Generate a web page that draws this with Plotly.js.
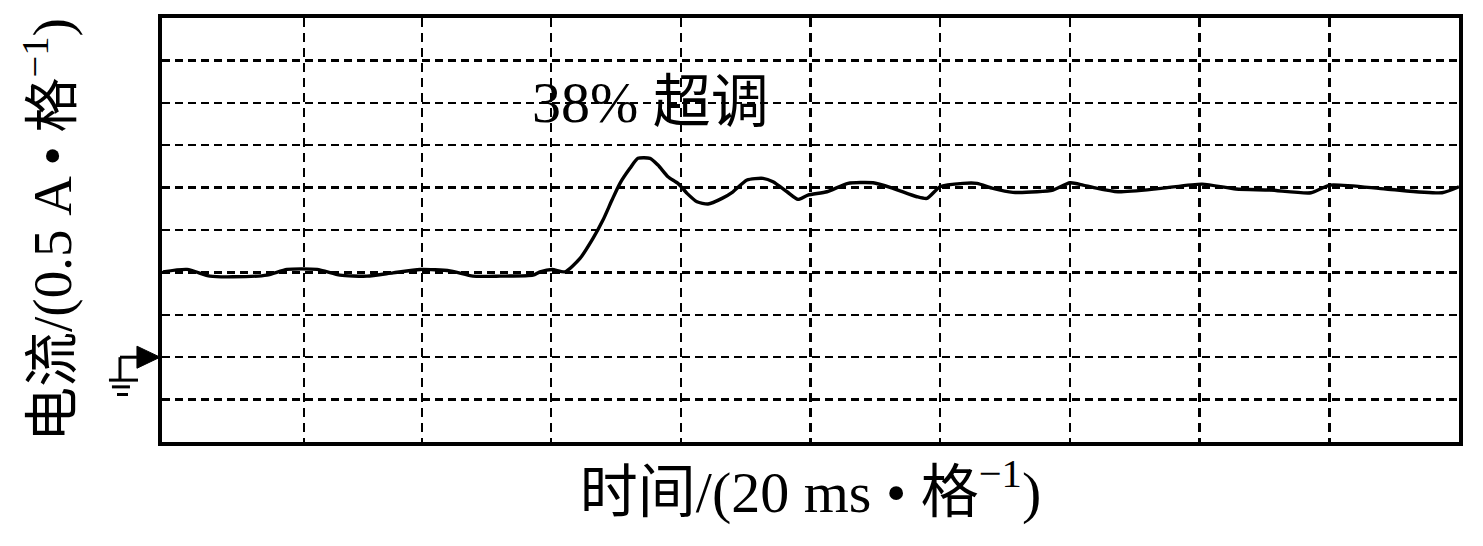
<!DOCTYPE html>
<html>
<head>
<meta charset="utf-8">
<script src="https://cdn.plot.ly/plotly-3.0.1.min.js"></script>
<style>
  html, body { margin: 0; padding: 0; background: #fff; }
  #plot { width: 1483px; height: 546px; }
</style>
</head>
<body>
<div id="plot"></div>
<script>
// time in ms (20 ms per division), current in A (0.5 A per division)
const timeMs = [0.15, 3.86, 7.40, 10.95, 16.19, 19.27, 23.90, 27.45, 31.61, 35.62,
  39.78, 44.41, 47.96, 52.12, 57.21, 58.29, 60.14, 62.15, 64.46, 66.46,
  68.00, 69.39, 70.62, 72.16, 73.39, 75.25, 76.48, 78.02, 79.56, 80.96,
  82.50, 84.20, 86.36, 88.05, 90.21, 92.68, 94.22, 96.38, 98.07, 99.61,
  102.54, 105.78, 109.64, 112.72, 116.42, 117.96, 119.97, 123.52, 125.67, 128.14,
  131.22, 134.93, 137.39, 140.02, 142.02, 143.56, 147.42, 154.05, 160.37, 165.61,
  170.85, 177.18, 180.11, 188.74, 197.38, 200.0]
const currentA = [1.007, 1.035, 0.956, 0.948, 0.968, 1.035, 1.035, 0.968, 0.956, 0.995,
  1.035, 1.018, 0.956, 0.956, 0.968, 1.007, 1.035, 1.007, 1.165, 1.401,
  1.617, 1.853, 2.050, 2.227, 2.345, 2.345, 2.266, 2.128, 2.050, 1.932,
  1.833, 1.806, 1.873, 1.951, 2.089, 2.109, 2.069, 1.951, 1.861, 1.912,
  1.951, 2.050, 2.057, 1.991, 1.892, 1.873, 2.010, 2.050, 2.050, 1.991,
  1.944, 1.951, 1.971, 2.057, 2.030, 2.003, 1.951, 1.991, 2.041, 1.983,
  1.971, 1.939, 2.030, 1.983, 1.939, 2.010]

// graticule positions as drawn on the screen shot
const xGrid = [21.9, 40.1, 60, 80, 100, 120, 140, 160, 180]
const yGrid = [-0.5, 0, 0.5, 1, 1.5, 2, 2.5, 3, 3.5]

const overshootLabel = '38% 超调'
const xTitle = '时间/(20 ms • 格<sup>−1</sup>)'
const yTitle = '电流/(0.5 A • 格<sup>−1</sup>)'

const FONT = "'Liberation Serif', 'Times New Roman', 'Noto Sans CJK SC', serif"

const trace = {
  x: timeMs,
  y: currentA,
  type: 'scatter',
  mode: 'lines',
  line: { color: '#000', width: 3.4, shape: 'spline', smoothing: 0.6 },
  hoverinfo: 'skip'
}

const axisBase = {
  showgrid: true,
  gridcolor: '#000',
  gridwidth: 2.4,
  tickmode: 'array',
  showticklabels: false,
  ticks: '',
  zeroline: false,
  showline: true,
  linecolor: '#000',
  linewidth: 4,
  mirror: true,
  fixedrange: true
}

// ground marker: arrow at 0 A pointing into the screen, with earth symbol below
const gx = -0.0324
const shapes = [
  { type: 'path', xref: 'paper', yref: 'y',
    path: 'M -0.0015,0 L -0.0193,0.13 L -0.0193,-0.13 Z',
    fillcolor: '#000', line: { color: '#000', width: 1 } },
  { type: 'line', xref: 'paper', yref: 'y', x0: gx, x1: -0.0193, y0: 0, y1: 0,
    line: { color: '#000', width: 3 } },
  { type: 'line', xref: 'paper', yref: 'y', x0: gx, x1: gx, y0: 0, y1: -0.27,
    line: { color: '#000', width: 3 } },
  { type: 'line', xref: 'paper', yref: 'y', x0: -0.0409, x1: -0.0185, y0: -0.27, y1: -0.27,
    line: { color: '#000', width: 3 } },
  { type: 'line', xref: 'paper', yref: 'y', x0: -0.0386, x1: -0.0247, y0: -0.35, y1: -0.35,
    line: { color: '#000', width: 3 } },
  { type: 'line', xref: 'paper', yref: 'y', x0: -0.0347, x1: -0.0262, y0: -0.44, y1: -0.44,
    line: { color: '#000', width: 3 } }
]

const layout = {
  width: 1483,
  height: 546,
  margin: { l: 162, r: 24, t: 18, b: 104 },
  paper_bgcolor: '#fff',
  plot_bgcolor: '#fff',
  showlegend: false,
  font: { family: FONT, size: 58, color: '#000' },
  xaxis: Object.assign({}, axisBase, {
    range: [0, 200],
    tickvals: xGrid,
    griddash: '9px,6px',
    title: { text: xTitle, standoff: 27, font: { family: FONT, size: 58, color: '#000' } }
  }),
  yaxis: Object.assign({}, axisBase, {
    range: [-1, 4],
    tickvals: yGrid,
    griddash: '8px,5px',
    title: { text: yTitle, standoff: 70, font: { family: FONT, size: 55, color: '#000' } }
  }),
  annotations: [{
    x: 75.3, y: 3.0, xref: 'x', yref: 'y',
    text: overshootLabel, showarrow: false,
    font: { family: FONT, size: 58, color: '#000' }
  }],
  shapes: shapes
}

Plotly.newPlot('plot', [trace], layout, { displayModeBar: false, staticPlot: true })
</script>
</body>
</html>
